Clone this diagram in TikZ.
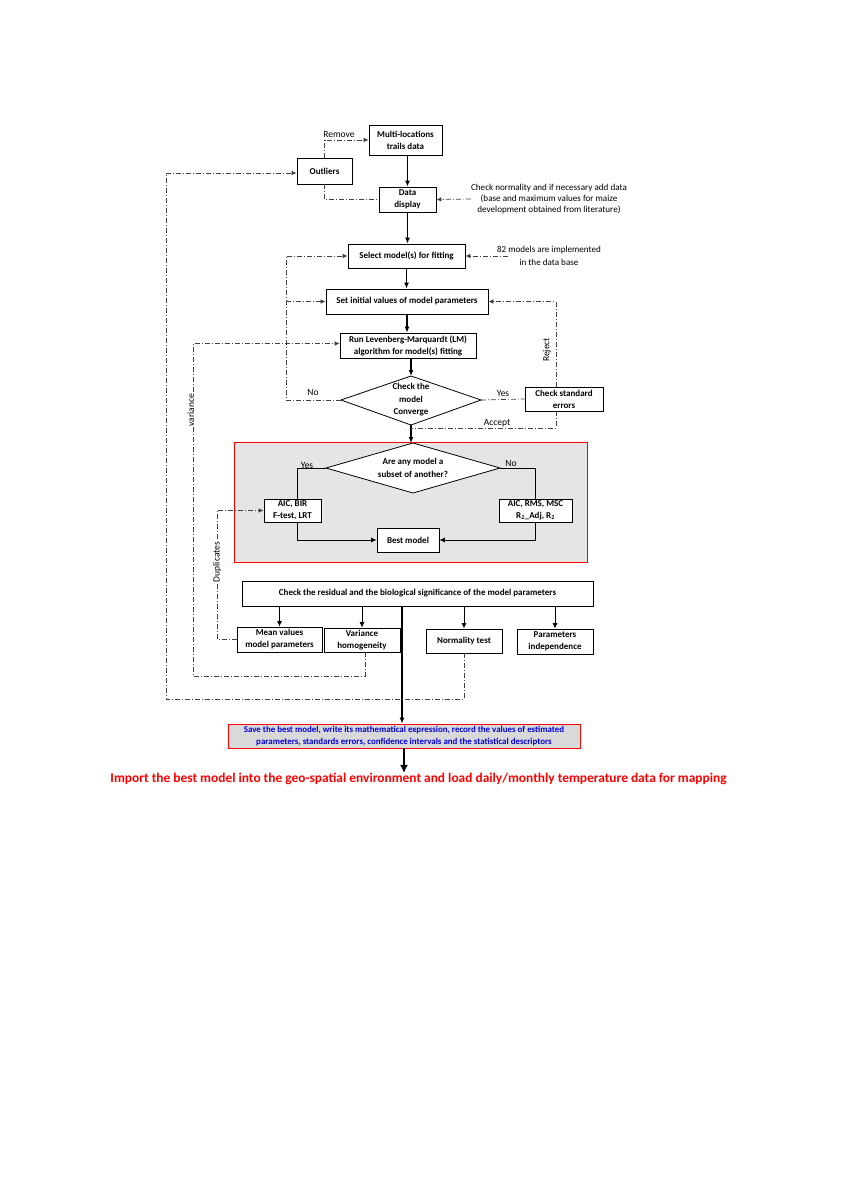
\documentclass[tikz,border=0pt]{standalone}
\usepackage{fontspec}
\setmainfont{Carlito}
\usetikzlibrary{arrows.meta,calc}
\begin{document}
\begin{tikzpicture}[x=1pt,y=-1pt,
  box/.style={draw, line width=0.8pt, fill=white, font=\bfseries\fontsize{9}{12}\selectfont, align=center, inner sep=0pt},
  lbl/.style={font=\fontsize{9.5}{11}\selectfont, align=center, inner sep=0pt},
  flow/.style={line width=1.2pt, -{Latex[length=6pt,width=5pt]}},
  thinflow/.style={line width=0.9pt, -{Latex[length=5.5pt,width=5pt]}},
  dd/.style={line width=0.7pt, draw=black!75, dash pattern=on 5pt off 2pt on 1pt off 2pt},
  dda/.style={dd, -{Latex[length=5pt,width=4.5pt]}},
  conn/.style={line width=0.8pt}
]
\useasboundingbox (0,0) rectangle (848,1200);

% grey region
\draw[red, line width=0.8pt, fill=gray!20] (234,442) rectangle (587,562);

% nodes
\node[box, minimum width=73, minimum height=30] (multi) at (405.5,140) {Multi-locations\\trails data};
\node[box, minimum width=55, minimum height=26] (outl) at (324.5,171) {Outliers};
\node[box, minimum width=57, minimum height=25] (disp) at (407.5,199.5) {Data\\display};
\node[lbl, font=\fontsize{9.1}{11}\selectfont] (chk) at (549,199) {Check normality and if necessary add data\\(base and maximum values for maize\\development obtained from literature)};
\node[box, minimum width=117, minimum height=24] (sel) at (406.5,256) {Select model(s) for fitting};
\node[lbl, font=\fontsize{9.1}{13}\selectfont] (m82) at (549,256) {82 models are implemented\\in the data base};
\node[box, minimum width=162, minimum height=25] (init) at (407,301.5) {Set initial values of model parameters};
\node[box, minimum width=136, minimum height=25] (run) at (408,345.5) {Run Levenberg-Marquardt (LM)\\algorithm for model(s) fitting};

% diamond 1
\coordinate (d1l) at (341,400);
\coordinate (d1r) at (481,400);
\coordinate (d1t) at (411,376);
\coordinate (d1b) at (411,425);
\draw[line width=0.8pt, fill=white] (d1t) -- (d1r) -- (d1b) -- (d1l) -- cycle;
\node[box, draw=none, fill=none, font=\bfseries\fontsize{9}{12.5}\selectfont] (d1) at (411,400) {Check the\\model\\Converge};

\node[box, minimum width=78, minimum height=24] (std) at (564,399) {Check standard\\errors};

% diamond 2
\coordinate (d2l) at (326,468);
\coordinate (d2r) at (500,468);
\coordinate (d2t) at (413,443);
\coordinate (d2b) at (413,493);
\draw[line width=0.8pt, fill=white] (d2t) -- (d2r) -- (d2b) -- (d2l) -- cycle;
\node[box, draw=none, fill=none, font=\bfseries\fontsize{9}{13}\selectfont] (d2) at (413,468) {Are any model a\\subset of another?};

\node[box, minimum width=57, minimum height=23] (aic1) at (292.5,510.5) {AIC, BIR\\F-test, LRT};
\node[box, minimum width=73, minimum height=23] (aic2) at (535.5,510.5) {AIC, RMS, MSC\\R\textsubscript{2}\_Adj, R\textsubscript{2}};
\node[box, minimum width=62, minimum height=24] (best) at (408,540) {Best model};

\node[box, minimum width=351, minimum height=25] (res) at (417.5,593.5) {Check the residual and the biological significance of the model parameters};
\node[box, minimum width=85, minimum height=25] (mean) at (279.5,639.5) {Mean values\\model parameters};
\node[box, minimum width=76, minimum height=24] (var) at (362,640) {Variance\\homogeneity};
\node[box, minimum width=76, minimum height=24] (norm) at (464,641) {Normality test};
\node[box, minimum width=76, minimum height=25] (par) at (555,641.5) {Parameters\\independence};

\node[box, draw=red, fill=gray!30, minimum width=352, minimum height=24, text=blue!90!black, font=\bfseries\fontsize{8.9}{12}\selectfont] (save) at (404,736) {Save the best model, write its mathematical expression, record the values of estimated\\parameters, standards errors, confidence intervals and the statistical descriptors};
\node[font=\bfseries\fontsize{13.4}{15}\selectfont, text=red, inner sep=0pt] (imp) at (418.5,779) {Import the best model into the geo-spatial environment and load daily/monthly temperature data for mapping};

% coordinates
\coordinate (mx) at (402,0);
\coordinate (nox) at (286,0);
\coordinate (acc) at (411,428);
\coordinate (vx) at (193,676);
\coordinate (nx) at (166,699);
\coordinate (dx) at (217,0);

% main flow
\draw[flow] (multi.south -| disp) -- (disp.north);
\draw[flow] (disp.south) -- (disp.south |- sel.north);
\draw[flow] (sel.south) -- (sel.south |- init.north);
\draw[flow] (init.south) -- (init.south |- run.north);
\draw[flow] (run.south -| d1t) -- (d1t);
\draw[flow] (d1b) -- (d1b |- d2t);

% dash-dot connectors top
\draw[dda] (outl.north) |- (multi.west);
\draw[dd] (outl.south) |- (disp.west);
\draw[dda] (chk.west) -- (disp.east);
\draw[dda] ([xshift=11pt]m82.west) -- (sel.east);
\draw[dda] (d1l) -- (d1l -| nox) |- (sel.west);
\draw[dda] (init.west -| nox) -- (init.west);
\draw[dd] (d1r) -- (std.west);
\draw[dda] ([xshift=-8pt]std.north) |- (init.east);
\draw[dd] ([xshift=-8pt]std.south) |- (acc);

% labels
\node[lbl] (lremove) at (339,134) {Remove};
\node[lbl] (lno1) at (313,392) {No};
\node[lbl] (lyes1) at (503,393) {Yes};
\node[lbl] (laccept) at (497,423) {Accept};
\node[lbl, rotate=90] (lreject) at (547,350) {Reject};

% diamond 2 branches
\draw[conn] (d2l) -| ([xshift=5pt]aic1.north);
\draw[conn] (d2r) -| (aic2.north);
\node[lbl] (lyes2) at (307,465) {Yes};
\node[lbl] (lno2) at (511,463) {No};
\draw[thinflow] ([xshift=5pt]aic1.south) |- (best.west);
\draw[thinflow] (aic2.south) |- (best.east);

% residual checks
\draw[thinflow] (res.south -| mean.north) -- (mean.north);
\draw[thinflow] (res.south -| var.north) -- (var.north);
\draw[thinflow] (res.south -| norm.north) -- (norm.north);
\draw[thinflow] (res.south -| par.north) -- (par.north);
\draw[flow] (res.south -| mx) -- (save.north -| mx);

% feedback loops
\draw[dda] ([xshift=3pt]var.south) |- (vx) |- ([yshift=2pt]run.west);
\draw[dda] (norm.south) |- (nx) |- ([yshift=-2pt]outl.west);
\draw[dda] (mean.west) -- (mean.west -| dx) |- (aic1.west);
\node[lbl, rotate=90, fill=white, inner sep=1pt] (lvar) at (191,410) {variance};
\node[lbl, rotate=90, fill=white, inner sep=1pt] (ldup) at (217,562) {Duplicates};

% final arrow
\draw[line width=2pt, -{Latex[length=8pt,width=8pt]}] (save.south) -- (save.south |- imp.north);
\end{tikzpicture}
\end{document}
